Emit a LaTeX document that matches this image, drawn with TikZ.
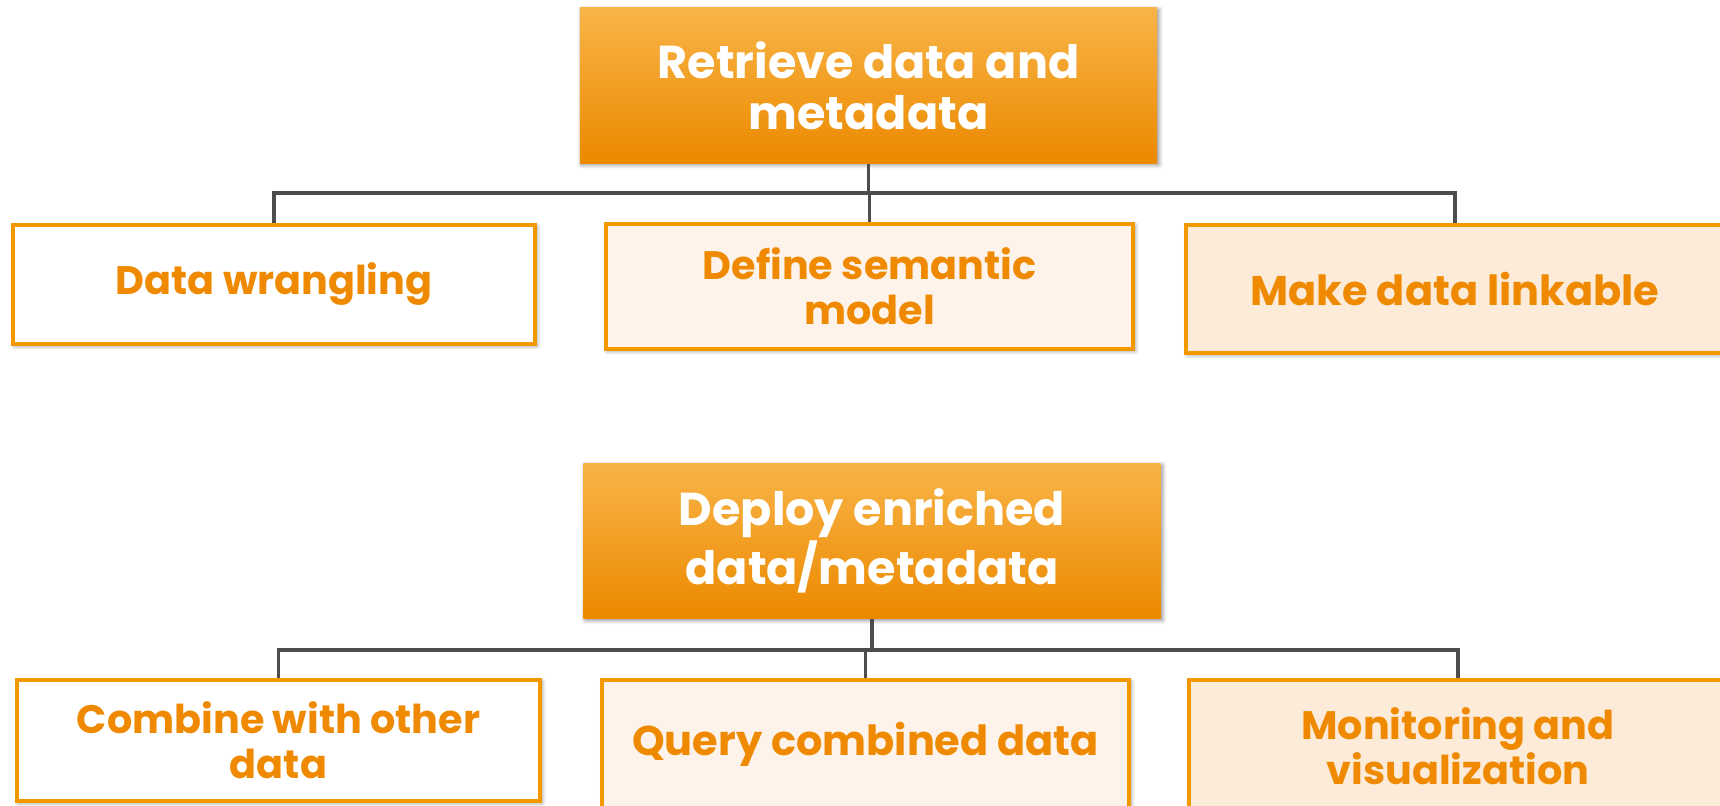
\documentclass[tikz,border=0pt]{standalone}
\usepackage{fontspec}
\setmainfont{Poppins}
\usepackage{tikz}
\usetikzlibrary{positioning,calc,shadows.blur}
\definecolor{headtop}{HTML}{F8B447}
\definecolor{headbot}{HTML}{EC8900}
\definecolor{boxline}{HTML}{F49800}
\definecolor{boxtext}{HTML}{EF8A00}
\definecolor{fillmid}{HTML}{FDF3EA}
\definecolor{fillright}{HTML}{FCEBD9}
\definecolor{busline}{HTML}{4D4D4D}
\tikzset{head/.style={rectangle,inner sep=0pt,align=center,top color=headtop,bottom color=headbot,text=white,
    font=\fontsize{13.1}{14.6}\selectfont\bfseries,minimum width=5.77cm,minimum height=1.55cm,
    blur shadow={shadow xshift=0.5pt,shadow yshift=-0.5pt,shadow blur steps=8,shadow blur radius=1.2pt,shadow opacity=45}},
  task/.style={rectangle,draw=boxline,line width=1pt,inner sep=0pt,align=center,text=boxtext,
    font=\fontsize{11.3}{12.8}\selectfont\bfseries,
    blur shadow={shadow xshift=0.5pt,shadow yshift=-0.5pt,shadow blur steps=8,shadow blur radius=1.2pt,shadow opacity=45}},
  bigtask/.style={task,font=\fontsize{11.8}{12.8}\selectfont\bfseries},
  bus/.style={draw=busline,line width=1.05pt}}

\begin{document}
\begin{tikzpicture}[x=0.01cm, y=-0.01cm]
        \useasboundingbox (0,0) rectangle (1720,806);
        \clip (0,0) rectangle (1720,806);
        % first stage
        \node[head] (retrieve) at (868.5,85.5) {Retrieve data and\\metadata};
        \node[task,fill=white,minimum width=5.22cm,minimum height=1.19cm] (wrangle) at (274,284.5) {Data wrangling};
        \node[task,fill=fillmid,minimum width=5.27cm,minimum height=1.25cm] (semantic) at (869.5,286.5) {Define semantic\\model};
        \node[bigtask,fill=fillright,minimum width=5.38cm,minimum height=1.28cm] (linkable) at (1455,289) {Make data linkable};
        \coordinate (bus1) at (869,193);
        \draw[bus] (retrieve.south) -- (retrieve.south |- bus1);
        \draw[bus] (wrangle.north) |- (bus1);
        \draw[bus] (linkable.north) |- (bus1);
        \draw[bus] (semantic.north) -- (semantic.north |- bus1);
        % second stage
        \node[head] (deploy) at (872,541) {Deploy enriched\\data/metadata};
        \node[task,fill=white,minimum width=5.23cm,minimum height=1.21cm] (combine) at (278.5,740.5) {Combine with other\\data};
        \node[bigtask,fill=fillmid,minimum width=5.27cm,minimum height=1.28cm] (query) at (865.5,744) {Query combined data};
        \node[task,fill=fillright,minimum width=5.38cm,minimum height=1.32cm] (monitor) at (1458,746) {Monitoring and\\visualization};
        \coordinate (bus2) at (871,650);
        \draw[bus] (deploy.south) -- (deploy.south |- bus2);
        \draw[bus] (combine.north) |- (bus2);
        \draw[bus] (monitor.north) |- (bus2);
        \draw[bus] (query.north) -- (query.north |- bus2);
\end{tikzpicture}
\end{document}
